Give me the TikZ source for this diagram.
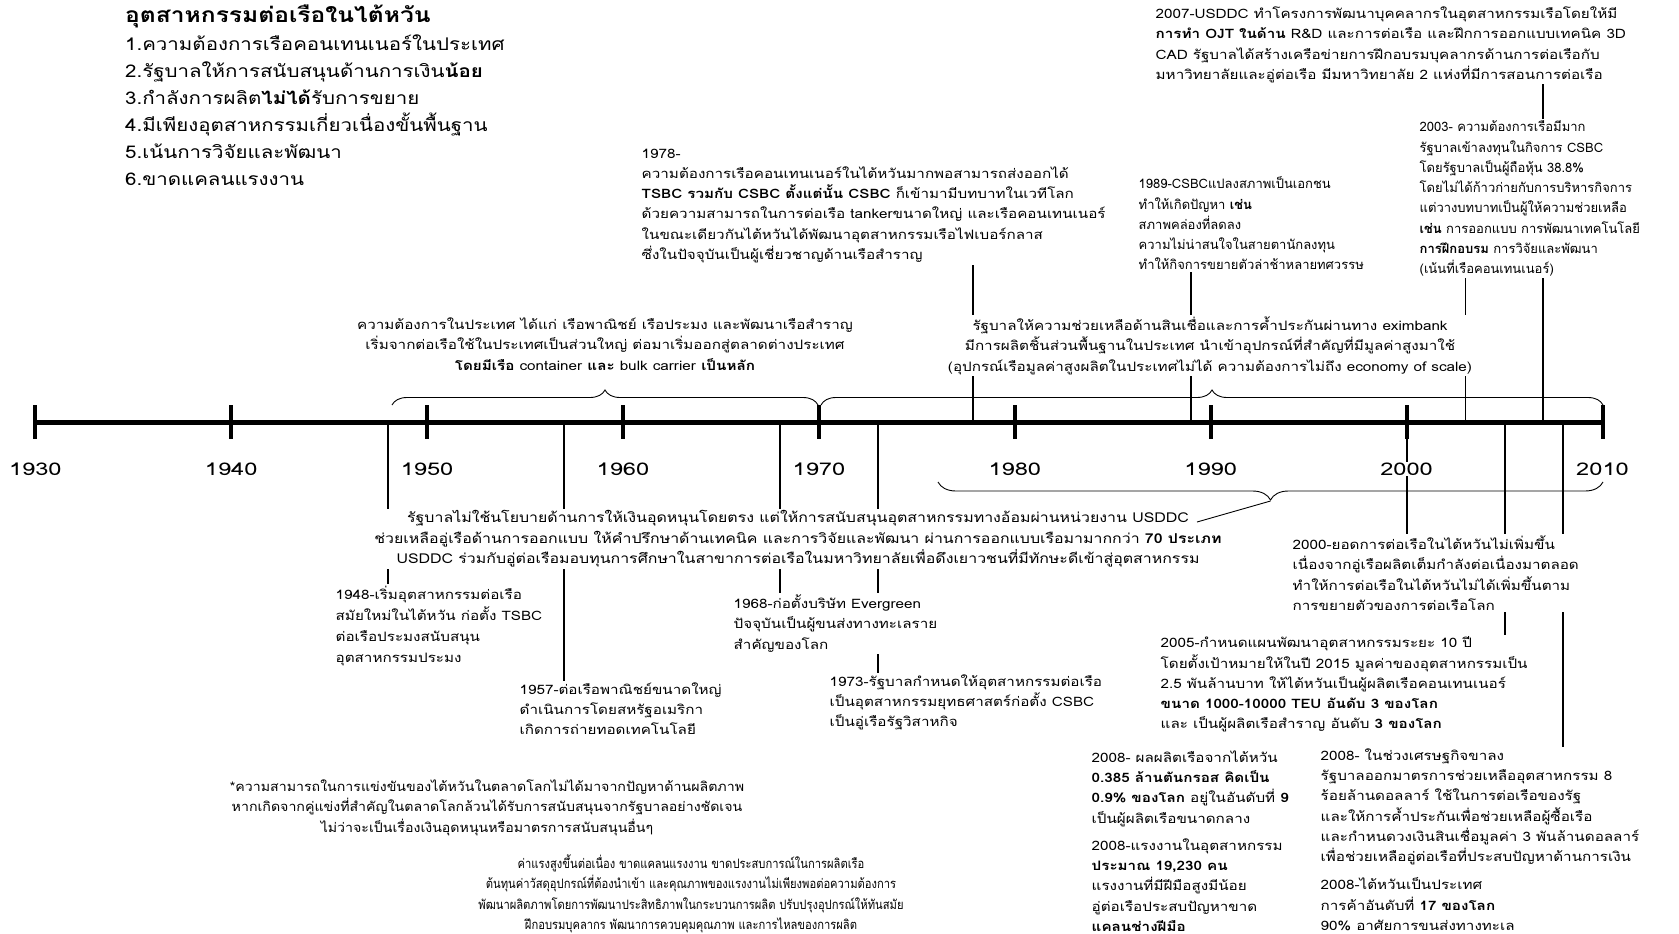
\documentclass[tikz,border=0pt]{standalone}
\usepackage{fontspec}
\setmainfont[Script=Thai, FakeStretch=1.17]{Loma}
\newfontfamily\plainthai[Script=Thai]{Loma}
\newfontfamily\midthai[Script=Thai, FakeStretch=1.09]{Loma}
\newfontfamily\narrowthai[Script=Thai, FakeStretch=0.86]{Loma}
\newfontfamily\yearfont[FakeStretch=1.35]{Loma}
\usetikzlibrary{positioning, decorations.pathreplacing, backgrounds}

\tikzset{
  evtext/.style={anchor=north west, align=left, fill=white, inner sep=1.5pt,
    font=\fontsize{13}{20.3}\selectfont},
  brtext/.style={anchor=north, align=center, fill=white, inner sep=1.5pt,
    font=\fontsize{13}{20.5}\selectfont},
  evline/.style={line width=1.8pt},
  yearlbl/.style={fill=white, inner sep=1pt, font=\yearfont\fontsize{17.5}{17.5}\selectfont},
  upbrace/.style={decorate, decoration={brace, amplitude=15pt}, line width=0.9pt},
  downbrace/.style={decorate, decoration={brace, amplitude=18pt, mirror}, line width=0.9pt},
}

\begin{document}
\begin{tikzpicture}[x=1pt, y=-1pt]
\useasboundingbox (0,0) rectangle (1679,934);

% title and list
\node (title) [anchor=west, inner sep=0pt, font=\fontsize{21}{21}\selectfont\bfseries] at (125,16) {อุตสาหกรรมต่อเรือในไต้หวัน};
\node (list) [anchor=north west, align=left, inner sep=0pt, font=\fontsize{17.5}{27}\selectfont] at (125,35)
  {1.ความต้องการเรือคอนเทนเนอร์ในประเทศ\\
   2.รัฐบาลให้การสนับสนุนด้านการเงิน\textbf{น้อย}\\
   3.กำลังการผลิต\textbf{ไม่ได้}รับการขยาย\\
   4.มีเพียงอุตสาหกรรมเกี่ยวเนื่องขั้นพื้นฐาน\\
   5.เน้นการวิจัยและพัฒนา\\
   6.ขาดแคลนแรงงาน};

% axis
\draw[line width=5pt] (35.3,422) -- (1603,422);
\foreach \i in {0,...,8}
  \draw[line width=4pt] (35.3+\i*195.9,405) -- (35.3+\i*195.9,439);

% points on the axis
\coordinate (a1948) at (387.9,422);
\coordinate (a1957) at (564.2,422);
\coordinate (a1968) at (779.7,422);
\coordinate (a1973) at (877.7,422);
\coordinate (a1978) at (973.0,422);
\coordinate (a1989) at (1191.1,422);
\coordinate (a2000) at (1406.6,422);
\coordinate (a2003) at (1465.4,422);
\coordinate (a2005) at (1504.6,422);
\coordinate (a2007) at (1542.7,422);
\coordinate (a2008) at (1563.3,422);

% braces
\draw[upbrace] (392,405) -- (818,405);
\draw[upbrace] (821,405) -- (1603,405);
\draw[downbrace] (938,482) -- (1603,482);
\coordinate (btip) at (1270.5,501);
\coordinate (gend) at (1197,522);

% events above
\node (e1978) [evtext] at (640,147)
  {1978-\\
   ความต้องการเรือคอนเทนเนอร์ในไต้หวันมากพอสามารถส่งออกได้\\
   \textbf{TSBC รวมกับ CSBC ตั้งแต่นั้น CSBC} ก็เข้ามามีบทบาทในเวทีโลก\\
   ด้วยความสามารถในการต่อเรือ tankerขนาดใหญ่ และเรือคอนเทนเนอร์\\
   ในขณะเดียวกันไต้หวันได้พัฒนาอุตสาหกรรมเรือไฟเบอร์กลาส\\
   ซึ่งในปัจจุบันเป็นผู้เชี่ยวชาญด้านเรือสำราญ};
\node (e1989) [evtext, font=\plainthai\fontsize{13}{20.3}\selectfont] at (1137,175)
  {1989-CSBCแปลงสภาพเป็นเอกชน\\
   ทำให้เกิดปัญหา \textbf{เช่น}\\
   สภาพคล่องที่ลดลง\\
   ความไม่น่าสนใจในสายตานักลงทุน\\
   ทำให้กิจการขยายตัวล่าช้าหลายทศวรรษ};
\node (e2007) [evtext] at (1154,5)
  {2007-USDDC ทำโครงการพัฒนาบุคคลากรในอุตสาหกรรมเรือโดยให้มี\\
   \textbf{การทำ OJT ในด้าน} R\&D และการต่อเรือ และฝึกการออกแบบเทคนิค 3D\\
   CAD รัฐบาลได้สร้างเครือข่ายการฝึกอบรมบุคลากรด้านการต่อเรือกับ\\
   มหาวิทยาลัยและอู่ต่อเรือ มีมหาวิทยาลัย 2 แห่งที่มีการสอนการต่อเรือ};
\node (e2003) [evtext, font=\plainthai\fontsize{13}{20.3}\selectfont] at (1418,119)
  {2003- ความต้องการเรือมีมาก\\
   รัฐบาลเข้าลงทุนในกิจการ CSBC\\
   โดยรัฐบาลเป็นผู้ถือหุ้น 38.8\%\\
   โดยไม่ได้ก้าวก่ายกับการบริหารกิจการ\\
   แต่วางบทบาทเป็นผู้ให้ความช่วยเหลือ\\
   \textbf{เช่น} การออกแบบ การพัฒนาเทคโนโลยี\\
   \textbf{การฝึกอบรม} การวิจัยและพัฒนา\\
   (เน้นที่เรือคอนเทนเนอร์)};

\node (dom) [brtext] at (605,316)
  {ความต้องการในประเทศ ได้แก่ เรือพาณิชย์ เรือประมง และพัฒนาเรือสำราญ\\
   เริ่มจากต่อเรือใช้ในประเทศเป็นส่วนใหญ่ ต่อมาเริ่มออกสู่ตลาดต่างประเทศ\\
   \textbf{โดยมีเรือ} container \textbf{และ} bulk carrier \textbf{เป็นหลัก}};
\node (exim) [brtext] at (1210,315)
  {รัฐบาลให้ความช่วยเหลือด้านสินเชื่อและการค้ำประกันผ่านทาง eximbank\\
   มีการผลิตชิ้นส่วนพื้นฐานในประเทศ นำเข้าอุปกรณ์ที่สำคัญที่มีมูลค่าสูงมาใช้\\
   (อุปกรณ์เรือมูลค่าสูงผลิตในประเทศไม่ได้ ความต้องการไม่ถึง economy of scale)};

% events below
\node (gov) [brtext, font=\fontsize{13.6}{20.5}\selectfont] at (798,509)
  {รัฐบาลไม่ใช้นโยบายด้านการให้เงินอุดหนุนโดยตรง แต่ให้การสนับสนุนอุตสาหกรรมทางอ้อมผ่านหน่วยงาน USDDC\\
   ช่วยเหลืออู่เรือด้านการออกแบบ ให้คำปรึกษาด้านเทคนิค และการวิจัยและพัฒนา ผ่านการออกแบบเรือมามากกว่า \textbf{70 ประเภท}\\
   USDDC ร่วมกับอู่ต่อเรือมอบทุนการศึกษาในสาขาการต่อเรือในมหาวิทยาลัยเพื่อดึงเยาวชนที่มีทักษะดีเข้าสู่อุตสาหกรรม};
\node (e1948) [evtext, font=\fontsize{13}{21}\selectfont] at (334,584)
  {1948-เริ่มอุตสาหกรรมต่อเรือ\\
   สมัยใหม่ในไต้หวัน ก่อตั้ง TSBC\\
   ต่อเรือประมงสนับสนุน\\
   อุตสาหกรรมประมง};
\node (e1957) [evtext] at (518,681)
  {1957-ต่อเรือพาณิชย์ขนาดใหญ่\\
   ดำเนินการโดยสหรัฐอเมริกา\\
   เกิดการถ่ายทอดเทคโนโลยี};
\node (e1968) [evtext] at (732,593)
  {1968-ก่อตั้งบริษัท Evergreen\\
   ปัจจุบันเป็นผู้ขนส่งทางทะเลราย\\
   สำคัญของโลก};
\node (e1973) [evtext] at (828,673)
  {1973-รัฐบาลกำหนดให้อุตสาหกรรมต่อเรือ\\
   เป็นอุตสาหกรรมยุทธศาสตร์ก่อตั้ง CSBC\\
   เป็นอู่เรือรัฐวิสาหกิจ};
\node (e2000) [evtext] at (1291,534)
  {2000-ยอดการต่อเรือในไต้หวันไม่เพิ่มขึ้น\\
   เนื่องจากอู่เรือผลิตเต็มกำลังต่อเนื่องมาตลอด\\
   ทำให้การต่อเรือในไต้หวันไม่ได้เพิ่มขึ้นตาม\\
   การขยายตัวของการต่อเรือโลก};
\node (e2005) [evtext] at (1159,635)
  {2005-กำหนดแผนพัฒนาอุตสาหกรรมระยะ 10 ปี\\
   โดยตั้งเป้าหมายให้ในปี 2015 มูลค่าของอุตสาหกรรมเป็น\\
   2.5 พันล้านบาท ให้ไต้หวันเป็นผู้ผลิตเรือคอนเทนเนอร์\\
   \textbf{ขนาด 1000-10000 TEU อันดับ 3 ของโลก}\\
   และ เป็นผู้ผลิตเรือสำราญ อันดับ \textbf{3 ของโลก}};
\node (e2008a) [evtext] at (1090,749)
  {2008- ผลผลิตเรือจากไต้หวัน\\
   \textbf{0.385 ล้านตันกรอส คิดเป็น}\\
   \textbf{0.9\% ของโลก} อยู่ในอันดับที่ \textbf{9}\\
   เป็นผู้ผลิตเรือขนาดกลาง};
\node (e2008b) [evtext] at (1090,837)
  {2008-แรงงานในอุตสาหกรรม\\
   \textbf{ประมาณ 19,230 คน}\\
   แรงงานที่มีฝีมือสูงมีน้อย\\
   อู่ต่อเรือประสบปัญหาขาด\\
   \textbf{แคลนช่างฝีมือ}};
\node (e2008c) [evtext] at (1319,747)
  {2008- ในช่วงเศรษฐกิจขาลง\\
   รัฐบาลออกมาตรการช่วยเหลืออุตสาหกรรม 8\\
   ร้อยล้านดอลลาร์ ใช้ในการต่อเรือของรัฐ\\
   และให้การค้ำประกันเพื่อช่วยเหลือผู้ซื้อเรือ\\
   และกำหนดวงเงินสินเชื่อมูลค่า 3 พันล้านดอลลาร์\\
   เพื่อช่วยเหลืออู่ต่อเรือที่ประสบปัญหาด้านการเงิน};
\node (e2008d) [evtext] at (1319,876)
  {2008-ไต้หวันเป็นประเทศ\\
   การค้าอันดับที่ \textbf{17 ของโลก}\\
   90\% อาศัยการขนส่งทางทะเล};

% notes
\node (comp) [brtext, font=\midthai\fontsize{13}{20.5}\selectfont] at (487,778)
  {*ความสามารถในการแข่งขันของไต้หวันในตลาดโลกไม่ได้มาจากปัญหาด้านผลิตภาพ\\
   หากเกิดจากคู่แข่งที่สำคัญในตลาดโลกล้วนได้รับการสนับสนุนจากรัฐบาลอย่างชัดเจน\\
   ไม่ว่าจะเป็นเรื่องเงินอุดหนุนหรือมาตรการสนับสนุนอื่นๆ};
\node (cost) [brtext, font=\narrowthai\fontsize{13}{20.5}\selectfont] at (691,853)
  {ค่าแรงสูงขึ้นต่อเนื่อง ขาดแคลนแรงงาน ขาดประสบการณ์ในการผลิตเรือ\\
   ต้นทุนค่าวัสดุอุปกรณ์ที่ต้องนำเข้า และคุณภาพของแรงงานไม่เพียงพอต่อความต้องการ\\
   พัฒนาผลิตภาพโดยการพัฒนาประสิทธิภาพในกระบวนการผลิต ปรับปรุงอุปกรณ์ให้ทันสมัย\\
   ฝึกอบรมบุคลากร พัฒนาการควบคุมคุณภาพ และการไหลของการผลิต};

% year labels
\foreach \yr [count=\i from 0] in {1930,1940,...,2010}
  \node (y\yr) [yearlbl] at (35.3+\i*195.9,469) {\yr};

% connectors
\begin{scope}[on background layer]
\draw[evline] (a1948) -- (a1948 |- e1948.north);
\draw[evline] (a1957) -- (a1957 |- e1957.north);
\draw[evline] (a1968) -- (a1968 |- e1968.north);
\draw[evline] (a1973) -- (a1973 |- e1973.north);
\draw[evline] (a2000) -- (a2000 |- e2000.north);
\draw[evline] (a2005) -- (a2005 |- e2005.north);
\draw[evline] (a2008) -- (a2008 |- e2008c.north);
\draw[evline] (a1978) -- (a1978 |- e1978.south);
\draw[evline] (a1989) -- (a1989 |- e1989.south);
\draw[evline] (a2003) -- (a2003 |- e2003.south);
\draw[evline] (a2007) -- (a2007 |- e2007.south);
\end{scope}
\draw[line width=0.9pt] (btip) -- (gend);
\end{tikzpicture}
\end{document}
